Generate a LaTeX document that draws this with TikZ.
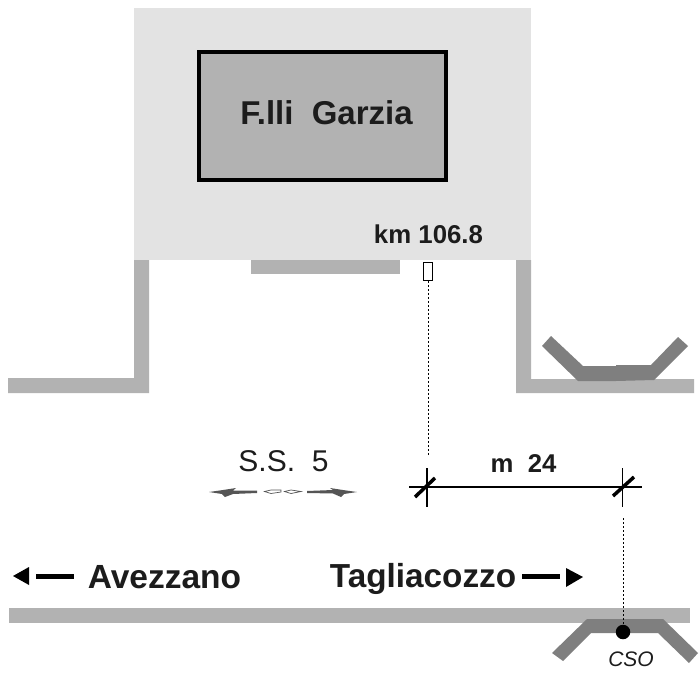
\documentclass[tikz,border=0pt]{standalone}
\usepackage{fontspec}
\setmainfont{Liberation Sans}
\definecolor{lightg}{HTML}{E3E3E3}
\definecolor{roadg}{HTML}{B2B2B2}
\definecolor{rampg}{HTML}{7F7F7F}
\definecolor{ink}{HTML}{1C1C1C}
\definecolor{ssg}{HTML}{555555}
\tikzset{
  road/.style={fill=roadg,draw=none},
  ramp/.style={fill=rampg,draw=none},
  lbl/.style={inner sep=0pt,text=ink,font=\bfseries,anchor=base},
  dotline/.style={line width=1pt,dash pattern=on 2pt off 2pt},
  dimline/.style={line width=1.1pt,black},
  slash/.style={line width=3.5pt,black},
  tri/.style={fill=black,draw=none},
  ssarrow/.style={fill=ssg,draw=none}
}
\begin{document}
\begin{tikzpicture}[x=1pt,y=-1pt]
\useasboundingbox (0,0) rectangle (700,700);
\fill[white] (0,0) rectangle (700,700);
% yard
\fill[lightg] (134,8) rectangle (531,260);
\node[draw=black,line width=4pt,fill=roadg,minimum width=247pt,minimum height=128pt,inner sep=0pt,anchor=center] (building) at (322.5,116.5) {};
\node[lbl,font=\bfseries\fontsize{33}{33}\selectfont] (garzia) at (326.5,124.5) {F.lli\ \ Garzia};
\node[lbl,font=\bfseries\fontsize{25.8}{25.8}\selectfont] (km) at (428.5,243.5) {km 106.8};
\fill[road] (251,260) rectangle (400,274);
% side roads
\fill[road] (8,378) -- (134,378) -- (134,260) -- (149,260) -- (149,393) -- (8,393) -- cycle;
\fill[road] (516,260) -- (531,260) -- (531,379) -- (694,379) -- (694,393) -- (516,393) -- cycle;
% upper ramp
\fill[ramp] (542,346) -- (551,336) -- (583,366) -- (616,366) -- (616,365) -- (651,365) -- (678,337) -- (688,346) -- (654,380) -- (616,381) -- (578,381) -- cycle;
% main road
\fill[road] (9,608) rectangle (690,623);
\fill[ramp] (552,653) -- (563,661) -- (591,633) -- (658,633) -- (689,663) -- (698,653) -- (663,619) -- (587,619) -- cycle;
% km marker and dotted lines
\node[draw=black,line width=0.9pt,fill=white,minimum width=9pt,minimum height=18pt,inner sep=0pt] (marker) at (428,271.5) {};
\coordinate (dimA) at (427.5,455);
\draw[dotline] (marker.south) -- (marker.south |- dimA);
% dimension
\coordinate (dimL) at (409,487);
\coordinate (dimR) at (642,487);
\coordinate (tickAt) at (427,468);
\coordinate (tickAb) at (427,507);
\coordinate (tickBt) at (622.5,468);
\coordinate (tickBb) at (622.5,507);
\draw[dimline] (dimL) -- (dimR);
\draw[dimline] (tickAt) -- (tickAb);
\draw[dimline] (tickBt) -- (tickBb);
\coordinate (slA1) at (415,497);
\coordinate (slA2) at (435,478);
\coordinate (slB1) at (613,496);
\coordinate (slB2) at (634,477);
\draw[slash] (slA1) -- (slA2);
\draw[slash] (slB1) -- (slB2);
\node[lbl,font=\bfseries\fontsize{25.7}{25.7}\selectfont] (m24) at (523.5,472) {m\ \ 24};
% CSO
\node[circle,fill=black,minimum size=14.5pt,inner sep=0pt] (cso) at (623,632) {};
\coordinate (dotTop) at (623,518);
\draw[dotline] (dotTop) -- (cso.north);
\node[lbl,font=\itshape\fontsize{21}{21}\selectfont] (csolabel) at (631,666) {CSO};
% S.S. 5
\node[lbl,font=\fontsize{30}{30}\selectfont] (ss) at (283.5,471) {S.S.\ \ 5};
\fill[ssarrow] (209,492) -- (223,490) -- (236,488) -- (233,490.5) -- (257,490.5) -- (257,493) -- (233,494) -- (225,497) -- (222,494) -- cycle;
\fill[ssarrow] (357,492) -- (343,490) -- (330,488) -- (333,490) -- (307,491) -- (307,493) -- (333,493.5) -- (341,497) -- (344,494) -- cycle;
\draw[ssg,line width=0.7pt,fill=white] (264.5,491.5) -- (271,490) -- (281,490) -- (281,492) -- (271,493.5) -- cycle;
\draw[ssg,line width=0.7pt,fill=white] (284.5,491.5) -- (291,490) -- (301,491.5) -- (291,493.5) -- cycle;
% directions
\node[lbl,font=\bfseries\fontsize{33.5}{33.5}\selectfont] (avez) at (164.5,588) {Avezzano};
\node[lbl,font=\bfseries\fontsize{33.3}{33.3}\selectfont] (tagl) at (423,587) {Tagliacozzo};
\fill[tri] (13,576) -- (29,567) -- (29,585) -- cycle;
\fill[black] (36,574) rectangle (74,579);
\fill[tri] (583,577) -- (566,568) -- (566,587) -- cycle;
\fill[black] (522,574) rectangle (560,578.5);
\end{tikzpicture}
\end{document}
